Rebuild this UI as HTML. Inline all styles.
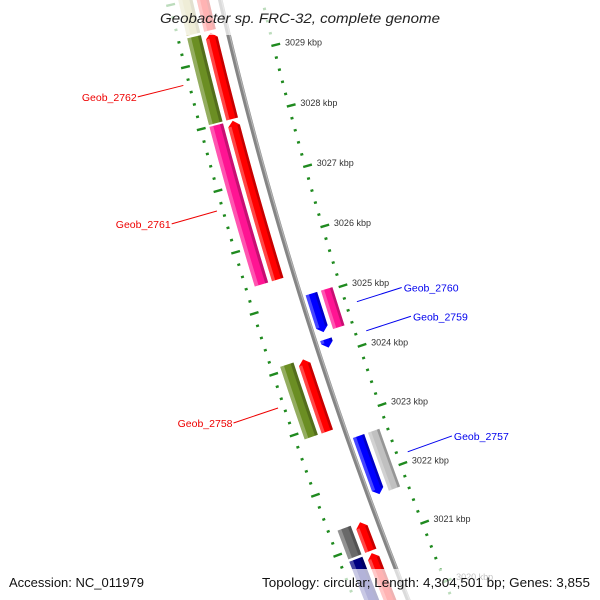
<!DOCTYPE html>
<html><head><meta charset="utf-8"><style>
html,body{margin:0;padding:0;background:#fff;width:600px;height:600px;overflow:hidden;}
svg{display:block;font-family:"Liberation Sans",sans-serif;}
</style></head><body>
<svg id="map" width="600" height="600" viewBox="0 0 600 600" xmlns="http://www.w3.org/2000/svg" overflow="hidden">
<rect x="0" y="0" width="600" height="600" fill="#fff"/>
<g id="ticks"></g>
<g id="backbone"></g>
<g id="features"></g>
<g id="labels"></g>
<rect x="155" y="0" width="290" height="35" fill="#fff" opacity="0.7"/>
<text x="300" y="23" text-anchor="middle" font-size="14" font-style="italic" fill="#222" textLength="280" lengthAdjust="spacingAndGlyphs">Geobacter sp. FRC-32, complete genome</text>
<rect x="257" y="569" width="340" height="31" fill="#fff" opacity="0.7"/>
<text x="9" y="587" font-size="13" fill="#111" textLength="135" lengthAdjust="spacingAndGlyphs">Accession: NC_011979</text>
<text x="262" y="587" font-size="13" fill="#111" textLength="328" lengthAdjust="spacingAndGlyphs">Topology: circular; Length: 4,304,501 bp; Genes: 3,855</text>
</svg>
<script>
// gene data (kbp)
const geneStart = [3029.47, 3028.03, 3025.40, 3024.39, 3024.13, 3022.88, 3021.67, 3020.88, 3019.40];
const geneEnd   = [3030.90, 3029.43, 3028.00, 3025.03, 3024.27, 3024.08, 3022.65, 3021.36, 3020.84];
const geneStrand = [1, 1, 1, -1, -1, 1, -1, 1, 1];
const cogColor = ['#c9c27a', '#6b8e23', '#ff1493', '#ff1493', null, '#6b8e23', '#c0c0c0', '#696969', '#000080'];
const geneLabel = ['', 'Geob_2762', 'Geob_2761', 'Geob_2760', 'Geob_2759', 'Geob_2758', 'Geob_2757', '', ''];
const labelKbp = [null, 3028.73, 3026.70, 3024.69, 3024.20, 3023.48, 3022.15, null, null];
const tickMajor = [3019, 3020, 3021, 3022, 3023, 3024, 3025, 3026, 3027, 3028, 3029, 3030, 3031];
const tickLabels = ['3019 kbp','3020 kbp','3021 kbp','3022 kbp','3023 kbp','3024 kbp','3025 kbp','3026 kbp','3027 kbp','3028 kbp','3029 kbp','3030 kbp','3031 kbp'];

const NS = 'http://www.w3.org/2000/svg';
const CX = 4289, CY = -945, A0 = 166.145, K0 = 3029, DEG = 0.8669;
function P(k, r) {
  const a = (A0 + (k - K0) * DEG) * Math.PI / 180;
  return [CX + r * Math.cos(a), CY + r * Math.sin(a)];
}
function mk(tag, attrs, parent) {
  const el = document.createElementNS(NS, tag);
  for (const k in attrs) el.setAttribute(k, attrs[k]);
  parent.appendChild(el);
  return el;
}
function arc(k1, k2, r) {
  const pts = [];
  const n = Math.max(2, Math.ceil(Math.abs(k2 - k1) / 0.1));
  for (let i = 0; i <= n; i++) pts.push(P(k1 + (k2 - k1) * i / n, r));
  return pts;
}
function ptsStr(p) { return p.map(q => q[0].toFixed(2) + ',' + q[1].toFixed(2)).join(' '); }

const gT = document.getElementById('ticks');
const gB = document.getElementById('backbone');
const gF = document.getElementById('features');
const gL = document.getElementById('labels');

// backbone
const bb = mk('polyline', {points: ptsStr(arc(3018.8, 3031.2, 4177)), fill: 'none', stroke: '#858585', 'stroke-width': 4.5}, gB);


const bb2 = mk('polyline', {points: ptsStr(arc(3018.8, 3031.2, 4175.8)), fill: 'none', stroke: '#b5b5b5', 'stroke-width': 1.2}, gB);



// ticks
const tickColor = '#1f8a1f';
for (let k = 3018.8; k <= 3031.01; k += 0.2) {
  const kr = Math.round(k * 10) / 10;
  const isMajor = Math.abs(kr - Math.round(kr)) < 1e-6;
  const a1 = isMajor ? P(kr, 4129) : P(kr, 4134.5);
  const a2 = isMajor ? P(kr, 4138) : P(kr, 4137.5);
  const t1 = mk('line', {x1: a1[0], y1: a1[1], x2: a2[0], y2: a2[1], stroke: tickColor, 'stroke-width': 2.4}, gT);
  
  
  const b1 = isMajor ? P(kr, 4222) : P(kr, 4225.5);
  const b2 = isMajor ? P(kr, 4231) : P(kr, 4228.5);
  const t2 = mk('line', {x1: b1[0], y1: b1[1], x2: b2[0], y2: b2[1], stroke: tickColor, 'stroke-width': 2.4}, gT);
  
  
}
tickMajor.forEach((k, i) => {
  const p = P(k, 4124);
  if (p[1] < -10 || p[1] > 610) return;
  const t = mk('text', {x: p[0], y: p[1] + 3, 'font-size': 9, fill: '#333'}, gT);
  
  
  t.textContent = tickLabels[i];
});

// features
const AL = 0.085;
function bar(s, e, r1, r2, dir, color, name) {
  const rm = (r1 + r2) / 2;
  let poly;
  if (dir === 1) {
    const sh = Math.max(s, e - AL);
    poly = arc(s, sh, r2).concat([P(e, rm)]).concat(arc(sh, s, r1));
  } else if (dir === -1) {
    const sh = Math.min(e, s + AL);
    poly = arc(e, sh, r2).concat([P(s, rm)]).concat(arc(sh, e, r1));
  } else {
    poly = arc(s, e, r2).concat(arc(e, s, r1));
  }
  const g = mk('g', {}, gF);
  
  
  const m = mk('polygon', {points: ptsStr(poly), fill: color}, g);
  
  
  let bs = s, be = e;
  if (dir === 1) be = Math.max(s, e - AL);
  if (dir === -1) bs = Math.min(e, s + AL);
  const w = r2 - r1;
  const hl = arc(bs, be, r2).concat(arc(be, bs, r2 - w * 0.28));
  const h = mk('polygon', {points: ptsStr(hl), fill: '#fff', opacity: 0.28}, g);
  
  
  const sd = arc(bs, be, r1 + w * 0.22).concat(arc(be, bs, r1));
  const d = mk('polygon', {points: ptsStr(sd), fill: '#000', opacity: 0.22}, g);
  
  
}
for (let i = 0; i < geneStart.length; i++) {
  const s = geneStart[i], e = geneEnd[i], st = geneStrand[i];
  const nm = (geneLabel[i] || 'gene-' + i).toLowerCase().replace('_', '-');
  if (st === 1) {
    bar(s, e, 4188, 4200, 1, '#ff0000', nm + '-cds');
    if (cogColor[i]) bar(s, e, 4204, 4218, 0, cogColor[i], nm + '-cog');
  } else {
    bar(s, e, 4160, 4172, -1, '#0000ff', nm + '-cds');
    if (cogColor[i]) bar(s, e, 4144, 4156, 0, cogColor[i], nm + '-cog');
  }
}

// labels
for (let i = 0; i < geneLabel.length; i++) {
  if (!geneLabel[i]) continue;
  const st = geneStrand[i];
  const k = labelKbp[i] !== null ? labelKbp[i] : (geneStart[i] + geneEnd[i]) / 2;
  const col = st === 1 ? '#ee0000' : '#0000ee';
  const p1 = st === 1 ? P(k, 4233) : P(k, 4125);
  const p2 = st === 1 ? P(k, 4280) : P(k, 4078);
  const ln = mk('line', {x1: p1[0], y1: p1[1], x2: p2[0], y2: p2[1], stroke: col, 'stroke-width': 1}, gL);
  
  
  const t = mk('text', {x: st === 1 ? p2[0] - 1 : p2[0] + 2, y: p2[1] + 4, 'font-size': 10.5, fill: col, 'text-anchor': st === 1 ? 'end' : 'start'}, gL);
  
  
  t.textContent = geneLabel[i];
}
</script>
</body></html>
